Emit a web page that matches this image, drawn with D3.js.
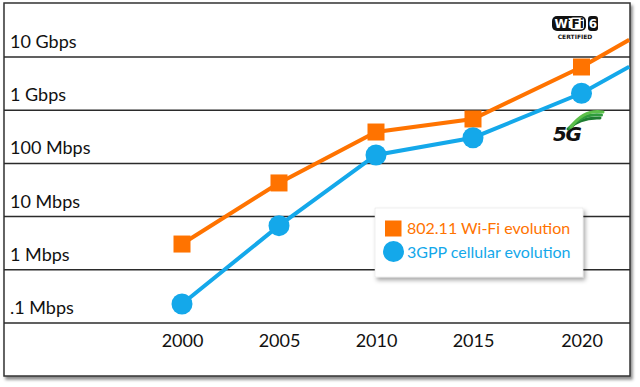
<!DOCTYPE html>
<html><head><meta charset="utf-8">
<script src="https://cdn.jsdelivr.net/npm/d3@7"></script>
<style>html,body{margin:0;padding:0;background:#fff;}svg{display:block;}</style>
</head><body>
<script>
// ---- data ----
const years = [2000, 2005, 2010, 2015, 2020];
const wifiValues = [3.05, 42.9, 389, 684, 6490];       // Mbps
const cellValues = [0.228, 6.75, 144, 304, 2080];      // Mbps
const tailYear = 2022.2;
const wifiTail = 21000;
const cellTail = 6580;
const tickValues = [10000, 1000, 100, 10, 1, 0.1];
const tickLabels = ["10 Gbps", "1 Gbps", "100 Mbps", "10 Mbps", "1 Mbps", ".1 Mbps"];
const seriesNames = ["802.11 Wi-Fi evolution", "3GPP cellular evolution"];

(function(){
const W = 640, H = 387;
const ORANGE = "#FF7300", BLUE = "#14A8EA";
const FONT = "Lato, 'Open Sans', sans-serif";

const svg = d3.select("body").append("svg").attr("width", W).attr("height", H);
const defs = svg.append("defs");
const sh = defs.append("filter").attr("id","shadow").attr("x","-5%").attr("y","-5%").attr("width","115%").attr("height","115%");
sh.append("feDropShadow").attr("dx",2).attr("dy",3).attr("stdDeviation",1.5).attr("flood-color","#000").attr("flood-opacity",0.45);
const sh2 = defs.append("filter").attr("id","shadow2").attr("x","-10%").attr("y","-10%").attr("width","130%").attr("height","140%");
sh2.append("feDropShadow").attr("dx",2).attr("dy",3).attr("stdDeviation",2).attr("flood-color","#000").attr("flood-opacity",0.35);
defs.append("clipPath").attr("id","clip").append("rect").attr("x",4).attr("y",3).attr("width",626).attr("height",373);

const fL = 4, fR = 630, fT = 3, fB = 376;
// frame
svg.append("rect").attr("x",fL).attr("y",fT).attr("width",fR-fL).attr("height",fB-fT)
  .attr("fill","#fff").attr("stroke","#333").attr("stroke-width",1.5).attr("filter","url(#shadow)");

const x = d3.scaleLinear().domain([2000, 2015, 2020]).range([182, 473, 581.5]);
const y = d3.scaleLog().domain([0.1, 10000]).range([323, 57]);

// grid lines
svg.append("g").selectAll("line").data(tickValues).join("line")
  .attr("x1", fL).attr("x2", fR)
  .attr("y1", d => y(d)).attr("y2", d => y(d))
  .attr("stroke", "#2b2b2b").attr("stroke-width", 1.5);

// y labels
svg.append("g").selectAll("text").data(tickValues).join("text")
  .attr("x", 10).attr("y", d => y(d) - 9)
  .attr("font-family", FONT).attr("font-size", 18).attr("fill", "#111")
  .text((d, i) => tickLabels[i]);

// x axis labels
const xAxis = d3.axisBottom(x).tickValues(years).tickFormat(d3.format("d")).tickSize(0).tickPadding(0);
const gx = svg.append("g").attr("transform", `translate(0,${y(0.1)})`).call(xAxis);
gx.select(".domain").remove();
gx.selectAll("text").attr("font-family", FONT).attr("font-size", 18).attr("fill", "#111").attr("dy", 0).attr("y", 23.5);

// lines
const line = d3.line().x(d => x(d[0])).y(d => y(d[1]));
const wifiPts = years.map((yr, i) => [yr, wifiValues[i]]).concat([[tailYear, wifiTail]]);
const cellPts = years.map((yr, i) => [yr, cellValues[i]]).concat([[tailYear, cellTail]]);
const gl = svg.append("g").attr("clip-path", "url(#clip)");
gl.append("path").attr("d", line(cellPts)).attr("fill","none").attr("stroke",BLUE).attr("stroke-width",4);
gl.append("path").attr("d", line(wifiPts)).attr("fill","none").attr("stroke",ORANGE).attr("stroke-width",4);

// markers
const S = 17;
svg.append("g").selectAll("rect").data(years).join("rect")
  .attr("x", (d) => x(d) - S/2).attr("y", (d, i) => y(wifiValues[i]) - S/2)
  .attr("width", S).attr("height", S).attr("fill", ORANGE);
svg.append("g").selectAll("circle").data(years).join("circle")
  .attr("cx", d => x(d)).attr("cy", (d, i) => y(cellValues[i])).attr("r", 10.5).attr("fill", BLUE);

// legend
const lg = svg.append("g");
lg.append("rect").attr("x",375).attr("y",208).attr("width",208).attr("height",69)
  .attr("fill","#fff").attr("stroke","#ddd").attr("stroke-width",0.5).attr("filter","url(#shadow2)");
lg.append("rect").attr("x",385).attr("y",220.5).attr("width",16.5).attr("height",16).attr("fill",ORANGE);
lg.append("circle").attr("cx",393.5).attr("cy",251.5).attr("r",10.5).attr("fill",BLUE);
lg.append("text").attr("x",407).attr("y",234).attr("font-family",FONT).attr("font-size",16).attr("fill",ORANGE).text(seriesNames[0]);
lg.append("text").attr("x",407).attr("y",258).attr("font-family",FONT).attr("font-size",16).attr("fill",BLUE).text(seriesNames[1]);

// Wi-Fi 6 logo
const wl = svg.append("g");
wl.append("rect").attr("x",552).attr("y",16).attr("width",34).attr("height",15).attr("rx",5).attr("fill","#111");
wl.append("rect").attr("x",570).attr("y",17.5).attr("width",14).attr("height",12).attr("rx",3).attr("fill","#fff");
wl.append("text").attr("x",554.5).attr("y",28).attr("font-family","'DejaVu Sans', sans-serif").attr("font-weight","bold").attr("font-size",12).attr("fill","#fff").text("Wi");
wl.append("text").attr("x",571.5).attr("y",28).attr("font-family","'DejaVu Sans', sans-serif").attr("font-weight","bold").attr("font-size",12).attr("fill","#111").text("Fi");
wl.append("rect").attr("x",588).attr("y",16).attr("width",10).attr("height",15).attr("rx",3).attr("fill","#111");
wl.append("text").attr("x",593).attr("y",28).attr("text-anchor","middle").attr("font-family","'DejaVu Sans', sans-serif").attr("font-weight","bold").attr("font-size",12).attr("fill","#fff").text("6");
wl.append("text").attr("x",575).attr("y",38.5).attr("text-anchor","middle").attr("font-family","'DejaVu Sans', sans-serif").attr("font-weight","bold").attr("font-size",6).attr("fill","#111").text("CERTIFIED");

// 5G logo
const g5 = svg.append("g");
g5.append("text").attr("x",553).attr("y",141).attr("font-family","'DejaVu Sans', sans-serif").attr("font-weight","bold").attr("font-style","italic").attr("font-size",20).attr("fill","#111").attr("letter-spacing",-1.5).text("5G");
[[0,"#1e7d32"],[1,"#2e9b3c"],[2,"#5cbf4a"]].forEach(([i,c]) => {
  g5.append("path")
    .attr("d", `M${568+i*1.5},${129-i*1} Q${580+i*2},${117-i*4} ${600+i*1.5},${118-i*3}`)
    .attr("fill","none").attr("stroke",c).attr("stroke-width",3).attr("stroke-linecap","round");
});
})();
</script>
</body></html>
